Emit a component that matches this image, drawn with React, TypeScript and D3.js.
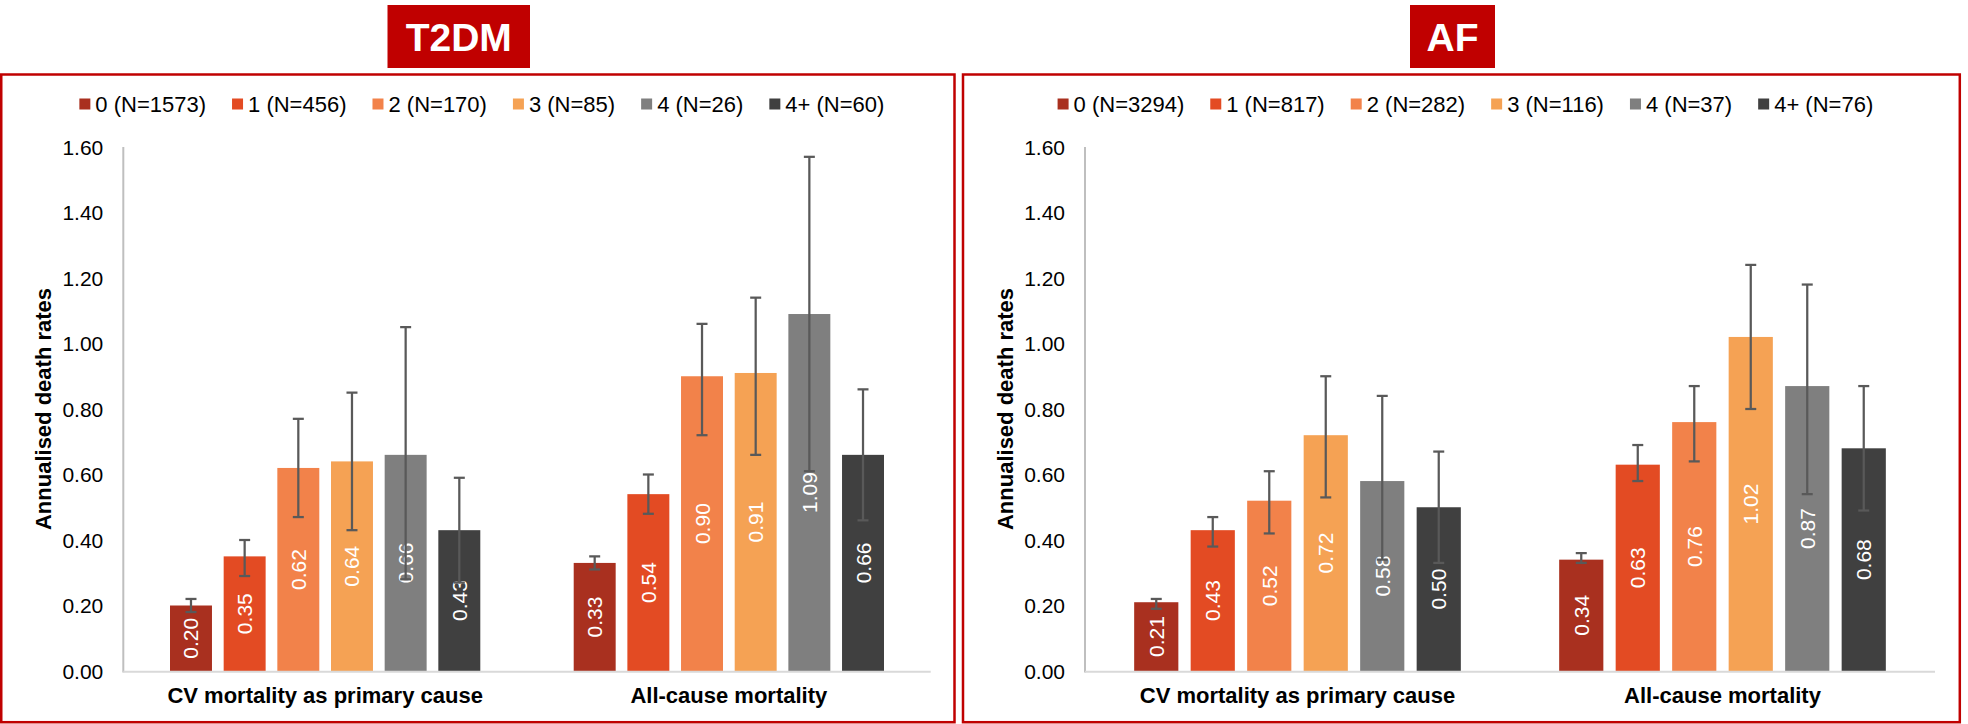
import React from "react";
import * as d3 from "d3";

const W = 1968;
const H = 724;
const FONT = "'Liberation Sans', Arial, Helvetica, sans-serif";

// ---------- data ----------
const categories = ["CV mortality as primary cause", "All-cause mortality"];
const seriesLabels = ["0", "1", "2", "3", "4", "4+"];
const seriesColors = ["#A9301F", "#E34B23", "#F2824A", "#F5A254", "#7F7F7F", "#404040"];
const yTicks = [0, 0.2, 0.4, 0.6, 0.8, 1.0, 1.2, 1.4, 1.6];

const t2dmN = [1573, 456, 170, 85, 26, 60];
const t2dmCV = [0.2, 0.35, 0.62, 0.64, 0.66, 0.43];
const t2dmCVLow = [0.18, 0.29, 0.47, 0.43, 0.28, 0.27];
const t2dmCVHigh = [0.22, 0.4, 0.77, 0.85, 1.05, 0.59];
const t2dmAll = [0.33, 0.54, 0.9, 0.91, 1.09, 0.66];
const t2dmAllLow = [0.31, 0.48, 0.72, 0.66, 0.61, 0.46];
const t2dmAllHigh = [0.35, 0.6, 1.06, 1.14, 1.57, 0.86];

const afN = [3294, 817, 282, 116, 37, 76];
const afCV = [0.21, 0.43, 0.52, 0.72, 0.58, 0.5];
const afCVLow = [0.19, 0.38, 0.42, 0.53, 0.34, 0.33];
const afCVHigh = [0.22, 0.47, 0.61, 0.9, 0.84, 0.67];
const afAll = [0.34, 0.63, 0.76, 1.02, 0.87, 0.68];
const afAllLow = [0.33, 0.58, 0.64, 0.8, 0.54, 0.49];
const afAllHigh = [0.36, 0.69, 0.87, 1.24, 1.18, 0.87];

type Group = { values: number[]; low: number[]; high: number[] };

const panels = [
  {
    title: "T2DM",
    n: t2dmN,
    groups: [
      { values: t2dmCV, low: t2dmCVLow, high: t2dmCVHigh },
      { values: t2dmAll, low: t2dmAllLow, high: t2dmAllHigh },
    ] as Group[],
    frame: [1.25, 74.5, 954.5, 722.2],
    titleBox: [387.5, 5, 530, 68],
    plotX: [123.3, 930.7],
    yTitleX: 51,
  },
  {
    title: "AF",
    n: afN,
    groups: [
      { values: afCV, low: afCVLow, high: afCVHigh },
      { values: afAll, low: afAllLow, high: afAllHigh },
    ] as Group[],
    frame: [963, 74.5, 1959.8, 722.2],
    titleBox: [1410, 5, 1495, 68],
    plotX: [1085, 1935],
    yTitleX: 1012.5,
  },
];

let ctx: CanvasRenderingContext2D | null = null;
function measure(text: string, font: string): number {
  if (!ctx) ctx = document.createElement("canvas").getContext("2d");
  if (!ctx) return text.length * 11;
  ctx.font = font;
  return ctx.measureText(text).width;
}

const Y_TOP = 147;
const Y_BOTTOM = 671;

function Panel({ p }: { p: (typeof panels)[number] }) {
  const y = d3.scaleLinear().domain([0, 1.6]).range([Y_BOTTOM, Y_TOP]);
  const x0 = d3
    .scaleBand<string>()
    .domain(categories)
    .range([p.plotX[0], p.plotX[1]])
    .paddingInner(0.2024)
    .paddingOuter(0.1012);
  const x1 = d3
    .scaleBand<string>()
    .domain(seriesLabels)
    .range([0, x0.bandwidth()])
    .paddingInner(0.218)
    .paddingOuter(0.109);
  const fmt = d3.format(".2f");

  const [fx0, fy0, fx1, fy1] = p.frame;
  const [tx0, ty0, tx1, ty1] = p.titleBox;

  // legend layout
  const legendFont = `22px ${FONT}`;
  const items = seriesLabels.map((s, i) => `${s} (N=${p.n[i]})`);
  const sw = 11;
  const swGap = 5;
  const itemGap = 26;
  const widths = items.map((t) => measure(t, legendFont));
  const total =
    widths.reduce((a, b) => a + b, 0) + items.length * (sw + swGap) + (items.length - 1) * itemGap;
  let lx = (fx0 + fx1) / 2 + 4 - total / 2;
  const legendPos = widths.map((w) => {
    const pos = lx;
    lx += sw + swGap + w + itemGap;
    return pos;
  });
  const legendY = 104;

  const plotMidY = (Y_TOP + Y_BOTTOM) / 2;

  return (
    <g>
      {/* frame */}
      <rect
        x={fx0}
        y={fy0}
        width={fx1 - fx0}
        height={fy1 - fy0}
        fill="none"
        stroke="#C00000"
        strokeWidth={2.5}
      />
      {/* title box */}
      <rect x={tx0} y={ty0} width={tx1 - tx0} height={ty1 - ty0} fill="#C00000" />
      <text
        x={(tx0 + tx1) / 2}
        y={50.5}
        textAnchor="middle"
        fill="#FFFFFF"
        fontFamily={FONT}
        fontWeight="bold"
        fontSize={39}
      >
        {p.title}
      </text>

      {/* legend */}
      {items.map((t, i) => (
        <g key={t}>
          <rect
            x={legendPos[i]}
            y={legendY - sw / 2}
            width={sw}
            height={sw}
            fill={seriesColors[i]}
          />
          <text
            x={legendPos[i] + sw + swGap}
            y={legendY}
            dominantBaseline="central"
            fontFamily={FONT}
            fontSize={22}
            fill="#000"
          >
            {t}
          </text>
        </g>
      ))}

      {/* y axis title */}
      <text
        transform={`translate(${p.yTitleX},${plotMidY}) rotate(-90)`}
        textAnchor="middle"
        fontFamily={FONT}
        fontWeight="bold"
        fontSize={22}
        fill="#000"
      >
        Annualised death rates
      </text>

      {/* y tick labels */}
      {yTicks.map((t) => (
        <text
          key={t}
          x={p.plotX[0] - 20}
          y={y(t)}
          textAnchor="end"
          dominantBaseline="central"
          fontFamily={FONT}
          fontSize={21}
          fill="#000"
        >
          {fmt(t)}
        </text>
      ))}

      {/* axis lines */}
      <line
        x1={p.plotX[0]}
        x2={p.plotX[0]}
        y1={y(1.6)}
        y2={y(0) + 1.5}
        stroke="#BFBFBF"
        strokeWidth={2}
      />

      {/* bars */}
      {p.groups.map((g, gi) => {
        const gx = x0(categories[gi]) as number;
        return (
          <g key={gi}>
            {g.values.map((v, si) => {
              const bx = gx + (x1(seriesLabels[si]) as number);
              const bw = x1.bandwidth();
              return (
                <rect
                  key={si}
                  x={bx}
                  y={y(v)}
                  width={bw}
                  height={y(0) - y(v)}
                  fill={seriesColors[si]}
                />
              );
            })}
          </g>
        );
      })}

      <line
        x1={p.plotX[0]}
        x2={p.plotX[1]}
        y1={y(0) + 0.7}
        y2={y(0) + 0.7}
        stroke="#D9D9D9"
        strokeWidth={2}
      />

      {/* data labels */}
      {p.groups.map((g, gi) => {
        const gx = x0(categories[gi]) as number;
        return g.values.map((v, si) => {
          const cx = gx + (x1(seriesLabels[si]) as number) + x1.bandwidth() / 2;
          const cy = (y(v) + y(0)) / 2;
          return (
            <text
              key={`l${gi}-${si}`}
              transform={`translate(${cx},${cy}) rotate(-90)`}
              textAnchor="middle"
              dominantBaseline="central"
              fontFamily={FONT}
              fontSize={21}
              fill="#FFFFFF"
            >
              {fmt(v)}
            </text>
          );
        });
      })}

      {/* error bars */}
      {p.groups.map((g, gi) => {
        const gx = x0(categories[gi]) as number;
        return g.values.map((v, si) => {
          const cx = gx + (x1(seriesLabels[si]) as number) + x1.bandwidth() / 2;
          const yl = y(g.low[si]);
          const yh = y(g.high[si]);
          const cap = 5.5;
          return (
            <g key={`e${gi}-${si}`} stroke="#595959" strokeWidth={2.25}>
              <line x1={cx} x2={cx} y1={yh} y2={yl} />
              <line x1={cx - cap} x2={cx + cap} y1={yh} y2={yh} />
              <line x1={cx - cap} x2={cx + cap} y1={yl} y2={yl} />
            </g>
          );
        });
      })}

      {/* category labels */}
      {categories.map((c) => (
        <text
          key={c}
          x={(x0(c) as number) + x0.bandwidth() / 2}
          y={703}
          textAnchor="middle"
          fontFamily={FONT}
          fontWeight="bold"
          fontSize={22}
          fill="#000"
        >
          {c}
        </text>
      ))}
    </g>
  );
}

export default function App() {
  return (
    <svg
      width={W}
      height={H}
      viewBox={`0 0 ${W} ${H}`}
      style={{ position: "absolute", left: 0, top: 0, display: "block", background: "#FFFFFF" }}
    >
      <rect x={0} y={0} width={W} height={H} fill="#FFFFFF" />
      {panels.map((p) => (
        <Panel key={p.title} p={p} />
      ))}
    </svg>
  );
}
